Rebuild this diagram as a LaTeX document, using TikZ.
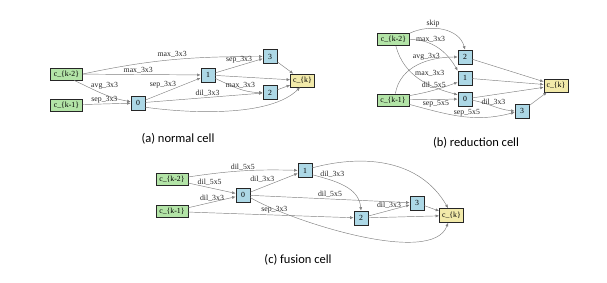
\documentclass[tikz,border=0pt]{standalone}
\usepackage{fontspec}
\setmainfont{Liberation Serif}
\newfontfamily\capfont{Carlito}
\usepackage{tikz}
\usetikzlibrary{arrows.meta}
\definecolor{ingreen}{HTML}{B3E4A7}
\definecolor{opblue}{HTML}{ADD8E6}
\definecolor{outyellow}{HTML}{F2EAAA}
\definecolor{edgegray}{HTML}{808080}

\begin{document}
\begin{tikzpicture}[x=1pt,y=1pt,
inbox/.style={draw=black!85,fill=ingreen,line width=0.7pt,minimum width=32pt,minimum height=12pt,inner sep=1pt,font=\fontsize{7.8}{8}\selectfont},
opbox/.style={draw=black!85,fill=opblue,line width=0.7pt,minimum width=14pt,minimum height=14pt,inner sep=0pt,font=\fontsize{7.8}{8}\selectfont},
outbox/.style={draw=black!85,fill=outyellow,line width=0.7pt,minimum width=24pt,minimum height=13pt,inner sep=1pt,font=\fontsize{7.8}{8}\selectfont},
arr/.style={-{Latex[length=3.5pt,width=3pt]},draw=edgegray,line width=0.45pt},
lbl/.style={font=\fontsize{7.8}{8}\selectfont,inner sep=0.6pt,text=black!85},
captext/.style={font=\capfont\fontsize{12.5}{14}\selectfont}
]
\useasboundingbox (0,0) rectangle (607,-283);

% (a) normal cell
\node[inbox] (ak2) at (66.5,-74) {c\_\{k-2\}};
\node[inbox] (ak1) at (66.5,-105) {c\_\{k-1\}};
\node[opbox] (a0) at (138,-103) {0};
\node[opbox] (a1) at (208,-75) {1};
\node[opbox] (a3) at (270,-56.5) {3};
\node[opbox] (a2) at (270,-92.5) {2};
\node[outbox] (ak) at (302.5,-80.5) {c\_\{k\}};
\draw[arr] (ak2.east) to[out=12,in=180] node[lbl,pos=.5,above=1pt] {max\_3x3} (a3.west);
\draw[arr] (ak2)--node[lbl,pos=.47,above] {max\_3x3} (a1);
\draw[arr] (ak2.-40) to[out=-25,in=170] node[lbl,pos=.3,above right=-1pt] {avg\_3x3} (a0.170);
\draw[arr] (ak1)--node[lbl,pos=.45,above] {sep\_3x3} (a0);
\draw[arr] (a0)--node[lbl,pos=.55,above left=-1pt] {sep\_3x3} (a1);
\draw[arr] (a1)--node[lbl,pos=.5,above=1.5pt] {sep\_3x3} (a3);
\draw[arr] (a1.-25) to[out=-25,in=180] node[lbl,pos=.55,above] {max\_3x3} (a2.west);
\draw[arr] (a0)--node[lbl,pos=.53,above] {dil\_3x3} (a2);
\draw[arr] (a0.-30) to[out=-8,in=-135,looseness=.7] (ak.-110);
\draw[arr] (a1)--(ak);\draw[arr] (a3)--(ak);\draw[arr] (a2)--(ak);
\node[captext] (capa) at (178,-139) {(a) normal cell};

% (b) reduction cell
\node[inbox] (bk2) at (393.5,-39.5) {c\_\{k-2\}};
\node[inbox] (bk1) at (393,-100) {c\_\{k-1\}};
\node[opbox] (b2) at (465,-57) {2};
\node[opbox] (b1) at (465,-78) {1};
\node[opbox] (b0) at (465,-99) {0};
\node[opbox] (b3) at (522,-111) {3};
\node[outbox] (bk) at (556,-85.5) {c\_\{k\}};
\draw[arr] (bk2.north east) to[out=25,in=105] node[lbl,pos=.35,above] {skip} (b2.north);
\draw[arr] (bk2.east) to[out=0,in=120] node[lbl,pos=.35,above] {max\_3x3} (b1.135);
\draw[arr] (bk1.70) to[out=80,in=180] node[lbl,pos=.62,above] {avg\_3x3} (b2.west);
\draw[arr] (bk2.-70) to[out=-75,in=165] node[lbl,pos=.45,above right=-1pt] {max\_3x3} (b0.150);
\draw[arr] (bk1.15) to[out=10,in=200] node[lbl,pos=.5,above=1pt] {dil\_5x5} (b1.210);
\draw[arr] (bk1)--node[lbl,pos=.55,below] {sep\_5x5} (b0);
\draw[arr] (b0.-10) to[out=-10,in=175] node[lbl,pos=.5,above] {dil\_3x3} (b3.west);
\draw[arr] (bk1.-15) to[out=-15,in=195] node[lbl,pos=.55,above] {sep\_5x5} (b3.190);
\draw[arr] (b2)--(bk);\draw[arr] (b1)--(bk);\draw[arr] (b0)--(bk);\draw[arr] (b3)--(bk);
\node[captext] (capb) at (476,-143) {(b) reduction cell};

% (c) fusion cell
\node[inbox] (ck2) at (172,-179.5) {c\_\{k-2\}};
\node[inbox] (ck1) at (172,-211.5) {c\_\{k-1\}};
\node[opbox] (c0) at (243,-195) {0};
\node[opbox] (c1) at (305,-170.5) {1};
\node[opbox] (c2) at (361,-218) {2};
\node[opbox] (c3) at (417,-203) {3};
\node[outbox,minimum height=14pt] (ck) at (451.5,-215.5) {c\_\{k\}};
\draw[arr] (ck2) to[bend left=5] node[lbl,pos=.5,above] {dil\_5x5} (c1);
\draw[arr] (ck2)--node[lbl,pos=.45,above=1.5pt] {dil\_5x5} (c0);
\draw[arr] (ck1)--node[lbl,pos=.5,above] {dil\_3x3} (c0);
\draw[arr] (c0)--node[lbl,pos=.5,above left=-1pt] {dil\_3x3} (c1);
\draw[arr] (c1.-30) to[out=-15,in=95] node[lbl,pos=.12,above right=-1pt] {dil\_3x3} (c2.north);
\draw[arr] (c1.20) to[out=15,in=120] (ck.115);
\draw[arr] (c0)--node[lbl,pos=.5,above=1pt] {dil\_5x5} (c3);
\draw[arr] (c0.-20) to[out=-30,in=-110,looseness=.6] (ck.-115);
\draw[arr] (ck1)--node[lbl,pos=.52,above=1.5pt] {sep\_3x3} (c2);
\draw[arr] (c2)--node[lbl,pos=.5,above=1.5pt] {dil\_3x3} (c3);
\draw[arr] (c2)--(ck);\draw[arr] (c3)--(ck);
\node[captext] (capc) at (298,-260) {(c) fusion cell};
\end{tikzpicture}
\end{document}
